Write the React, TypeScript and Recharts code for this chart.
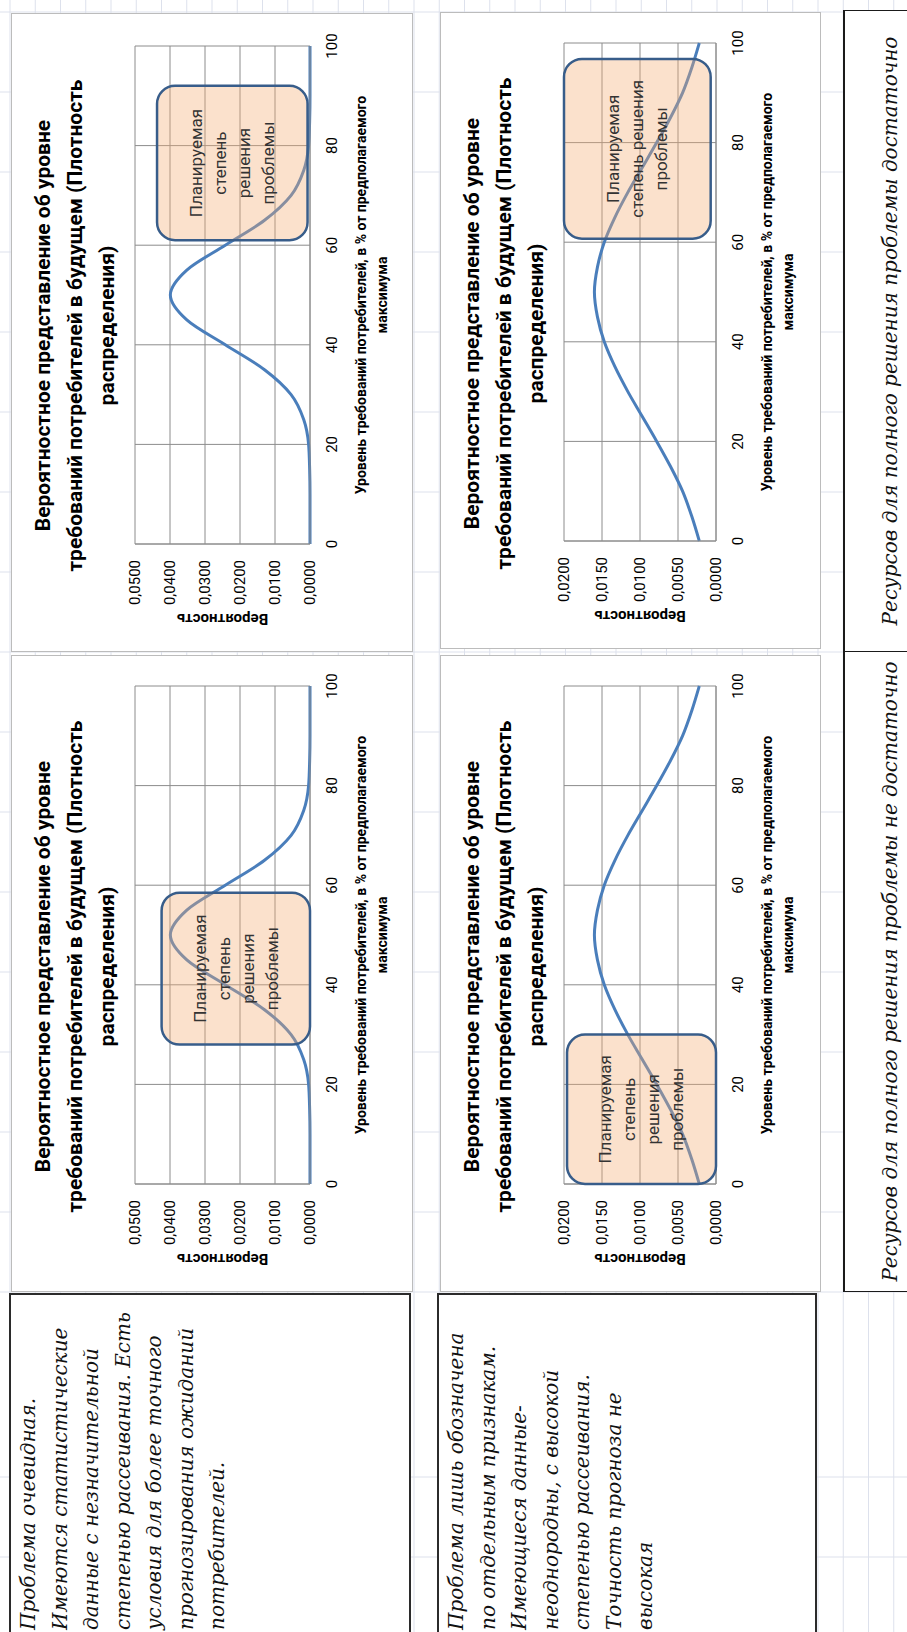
import React from "react";
import { LineChart, Line, XAxis, YAxis, CartesianGrid, ReferenceArea } from "recharts";

// demand level, % of expected maximum
const xLevels = [0, 5, 10, 15, 20, 25, 30, 35, 40, 45, 50, 55, 60, 65, 70, 75, 80, 85, 90, 95, 100];

// density (narrow spread)
const narrowDensity = [
  0, 0, 0, 0.0001, 0.0004, 0.0018, 0.0054, 0.013, 0.0242, 0.0352, 0.0399,
  0.0352, 0.0242, 0.013, 0.0054, 0.0018, 0.0004, 0.0001, 0, 0, 0,
];

// density (wide spread)
const wideDensity = [
  0.0022, 0.0032, 0.0044, 0.006, 0.0078, 0.0097, 0.0116, 0.0133, 0.0147, 0.0156, 0.016,
  0.0156, 0.0147, 0.0133, 0.0116, 0.0097, 0.0078, 0.006, 0.0044, 0.0032, 0.0022,
];

const xTicks = [0, 20, 40, 60, 80, 100];
const narrowTicks = [0, 0.01, 0.02, 0.03, 0.04, 0.05];
const wideTicks = [0, 0.005, 0.01, 0.015, 0.02];

const titleLines = [
  "Вероятностное представление об уровне",
  "требований потребителей в будущем (Плотность",
  "распределения)",
];
const xTitleLines = ["Уровень требований потребителей, в % от предполагаемого", "максимума"];
const yTitle = "Вероятность";

const planLines4 = ["Планируемая", "степень", "решения", "проблемы"];
const planLines3 = ["Планируемая", "степень решения", "проблемы"];

const noteEvident = [
  "Проблема очевидная.",
  "Имеются статистические",
  "данные с незначительной",
  "степенью рассеивания. Есть",
  "условия для более точного",
  "прогнозирования ожиданий",
  "потребителей.",
];
const noteVague = [
  "Проблема лишь обозначена",
  "по отдельным признакам.",
  "Имеющиеся данные-",
  "неоднородны, с высокой",
  "степенью рассеивания.",
  "Точность прогноза не",
  "высокая",
];
const resourcesShort = "Ресурсов для полного решения проблемы не достаточно";
const resourcesEnough = "Ресурсов для полного решения проблемы достаточно";

const SANS = "Roboto, 'Noto Sans', sans-serif";
const SERIF = "'DejaVu Serif', 'Liberation Serif', serif";

const fmtProb = (v: number) => v.toFixed(4).replace(".", ",");

const planBox = (lines: string[]) => (props: any) => {
  const { x, y, width, height } = props;
  const cx = x + width / 2;
  const cy = y + height / 2;
  const lh = 24;
  const y0 = cy - ((lines.length - 1) * lh) / 2;
  return (
    <g>
      <rect
        x={x}
        y={y}
        width={width}
        height={height}
        rx={18}
        ry={18}
        fill="#f4ac73"
        fillOpacity={0.36}
        stroke="#385d8a"
        strokeWidth={2.5}
      />
      <text textAnchor="middle" fontSize={17} fontFamily={SANS} fill="#333">
        {lines.map((l, i) => (
          <tspan key={i} x={cx} y={y0 + i * lh} dy="0.35em">
            {l}
          </tspan>
        ))}
      </text>
    </g>
  );
};

type PanelProps = {
  left: number;
  top: number;
  width: number;
  height: number;
  plotHeight: number;
  values: number[];
  yTicks: number[];
  box: number[];
  lines: string[];
};

function DensityPanel({ left, top, width, height, plotHeight, values, yTicks, box, lines }: PanelProps) {
  const data = xLevels.map((x, i) => ({ x, p: values[i] }));
  const innerW = width - 2;
  const innerH = height - 2;
  const axisW = 107;
  const plotW = 498;
  const xAxisH = innerH - 123 - plotHeight;

  return (
    <div
      style={{
        position: "absolute",
        left,
        top,
        width,
        height,
        boxSizing: "border-box",
        border: "1px solid #bcbcbc",
        background: "#fff",
      }}
    >
      <div
        style={{
          position: "absolute",
          left: 14,
          right: 0,
          top: 15,
          textAlign: "center",
          fontFamily: SANS,
          fontWeight: 700,
          fontSize: 21,
          lineHeight: "32px",
          color: "#000",
          whiteSpace: "nowrap",
        }}
      >
        {titleLines.map((t, i) => (
          <div key={i}>{t}</div>
        ))}
      </div>
      <div style={{ position: "absolute", left: 0, top: 0 }}>
        <LineChart
          width={innerW}
          height={innerH}
          data={data}
          margin={{ top: 123, right: innerW - axisW - plotW, bottom: 0, left: 0 }}
        >
          <CartesianGrid stroke="#8c8c8c" strokeWidth={1} />
          <XAxis
            dataKey="x"
            type="number"
            domain={[0, 100]}
            ticks={xTicks}
            height={xAxisH}
            axisLine={{ stroke: "#8c8c8c" }}
            tickLine={false}
            tickSize={0}
            tickMargin={16}
            tick={{ fontFamily: SANS, fontSize: 15, fill: "#000" }}
            label={{
              content: (p: any) => {
                const vb = p.viewBox || {};
                const cx = vb.x + vb.width / 2;
                return (
                  <text textAnchor="middle" fontFamily={SANS} fontSize={14} fontWeight={700} fill="#000">
                    <tspan x={cx} y={vb.y + 56}>
                      {xTitleLines[0]}
                    </tspan>
                    <tspan x={cx} y={vb.y + 77}>
                      {xTitleLines[1]}
                    </tspan>
                  </text>
                );
              },
            }}
          />
          <YAxis
            type="number"
            domain={[0, yTicks[yTicks.length - 1]]}
            ticks={yTicks}
            width={axisW}
            axisLine={{ stroke: "#8c8c8c" }}
            tickLine={false}
            tickSize={0}
            tickMargin={16}
            tickFormatter={fmtProb}
            tick={{ fontFamily: SANS, fontSize: 15, fill: "#000" }}
            label={{
              content: (p: any) => {
                const vb = p.viewBox || {};
                const cy = vb.y + vb.height / 2;
                return (
                  <text
                    x={32}
                    y={cy}
                    transform={`rotate(-90 32 ${cy})`}
                    textAnchor="middle"
                    dominantBaseline="central"
                    fontFamily={SANS}
                    fontSize={15}
                    fontWeight={700}
                    fill="#000"
                  >
                    {yTitle}
                  </text>
                );
              },
            }}
          />
          <Line
            type="monotone"
            dataKey="p"
            stroke="#4a7ebb"
            strokeWidth={3}
            dot={false}
            isAnimationActive={false}
          />
          <ReferenceArea
            x1={box[0]}
            x2={box[1]}
            y1={box[2]}
            y2={box[3]}
            ifOverflow="visible"
            zIndex={700}
            shape={planBox(lines)}
          />
        </LineChart>
      </div>
    </div>
  );
}

function NoteBox({ top, height, lines }: { top: number; height: number; lines: string[] }) {
  return (
    <div
      style={{
        position: "absolute",
        left: -20,
        top,
        width: 359,
        height,
        boxSizing: "border-box",
        border: "2px solid #2b2b2b",
        background: "#fff",
        paddingLeft: 20,
        paddingTop: 2,
        fontFamily: SERIF,
        fontStyle: "italic",
        fontSize: 20,
        lineHeight: "31.5px",
        color: "#111",
        whiteSpace: "nowrap",
      }}
    >
      {lines.map((l, i) => (
        <div key={i}>{l}</div>
      ))}
    </div>
  );
}

export default function App() {
  const colLines = [75, 155, ...Array.from({ length: 17 }, (_, k) => 340 + 80 * k)];
  const rowLines = Array.from({ length: 36 }, (_, k) => 10 + 25.25 * k);
  const labelCell: React.CSSProperties = {
    position: "absolute",
    top: 0,
    height: 120,
    boxSizing: "border-box",
    textAlign: "center",
    paddingTop: 30,
    fontFamily: SERIF,
    fontStyle: "italic",
    fontSize: 20,
    lineHeight: "30px",
    color: "#111",
    whiteSpace: "nowrap",
  };

  return (
    <div
      style={{
        position: "absolute",
        left: 0,
        top: 0,
        width: 907,
        height: 1632,
        overflow: "hidden",
        background: "#fff",
      }}
    >
      <div
        style={{
          position: "absolute",
          left: 0,
          top: 0,
          width: 1632,
          height: 907,
          transformOrigin: "0 0",
          transform: "translateY(1632px) rotate(-90deg)",
          background: "#fff",
        }}
      >
        <svg width={1632} height={907} style={{ position: "absolute", left: 0, top: 0 }}>
          {colLines.map((u, i) => (
            <line key={"c" + i} x1={u} x2={u} y1={0} y2={907} stroke="#dde1ec" strokeWidth={1} />
          ))}
          {rowLines.map((v, i) => (
            <line key={"r" + i} x1={0} x2={1632} y1={v} y2={v} stroke="#dde1ec" strokeWidth={1} />
          ))}
        </svg>

        <NoteBox top={9} height={402} lines={noteEvident} />
        <NoteBox top={437} height={380} lines={noteVague} />

        <DensityPanel
          left={340}
          top={11}
          width={637}
          height={402}
          plotHeight={175}
          values={narrowDensity}
          yTicks={narrowTicks}
          box={[28, 58.5, 0, 0.0424]}
          lines={planLines4}
        />
        <DensityPanel
          left={980}
          top={11}
          width={639}
          height={402}
          plotHeight={175}
          values={narrowDensity}
          yTicks={narrowTicks}
          box={[61, 92, 0.0007, 0.0437]}
          lines={planLines4}
        />
        <DensityPanel
          left={340}
          top={440}
          width={637}
          height={381}
          plotHeight={152}
          values={wideDensity}
          yTicks={wideTicks}
          box={[0, 30, 0, 0.0196]}
          lines={planLines4}
        />
        <DensityPanel
          left={983}
          top={440}
          width={637}
          height={381}
          plotHeight={152}
          values={wideDensity}
          yTicks={wideTicks}
          box={[60.7, 96.8, 0.0007, 0.02]}
          lines={planLines3}
        />

        <div
          style={{
            position: "absolute",
            left: 340,
            top: 843,
            width: 1282,
            height: 120,
            boxSizing: "border-box",
            borderTop: "2px solid #1a1a1a",
            borderLeft: "1px solid #1a1a1a",
            borderRight: "1px solid #1a1a1a",
            background: "#fff",
          }}
        >
          <div style={{ ...labelCell, left: 0, width: 640, borderRight: "1px solid #1a1a1a" }}>
            {resourcesShort}
          </div>
          <div style={{ ...labelCell, left: 640, width: 640 }}>{resourcesEnough}</div>
        </div>
      </div>
    </div>
  );
}
